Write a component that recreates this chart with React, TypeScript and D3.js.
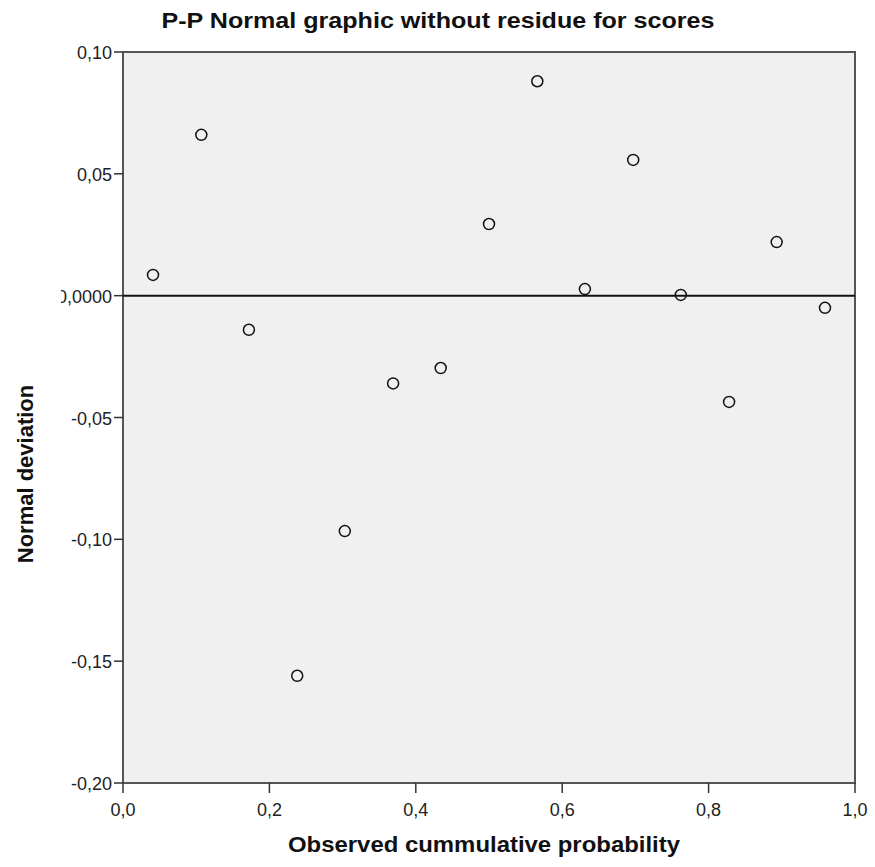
import React from 'react';
import * as d3 from 'd3';

// Observed cumulative probability (x) and normal deviation (y) per case
const observedProb = [0.041, 0.107, 0.172, 0.238, 0.303, 0.369, 0.434, 0.5, 0.566, 0.631, 0.697, 0.762, 0.828, 0.893, 0.959];
const deviation = [0.0085, 0.066, -0.014, -0.156, -0.0966, -0.036, -0.0297, 0.0294, 0.088, 0.0027, 0.0557, 0.0003, -0.0436, 0.022, -0.005];

const xTicks = [0, 0.2, 0.4, 0.6, 0.8, 1.0];
const xTickLabels = ['0,0', '0,2', '0,4', '0,6', '0,8', '1,0'];
const yTicks = [0.1, 0.05, 0, -0.05, -0.1, -0.15, -0.2];
const yTickLabels = ['0,10', '0,05', '0,0000', '-0,05', '-0,10', '-0,15', '-0,20'];

const App = () => {
  const width = 875;
  const height = 867;
  const left = 123;
  const right = 855;
  const top = 52;
  const bottom = 783;

  const x = d3.scaleLinear().domain([0, 1]).range([left, right]);
  const y = d3.scaleLinear().domain([-0.2, 0.1]).range([bottom, top]);

  const font = '"Liberation Sans", Arial, sans-serif';

  return (
    <svg width={width} height={height} style={{ position: 'absolute', left: 0, top: 0, background: '#fff' }} fontFamily={font}>
      <defs>
        {/* the long zero label is cut at the left, as in the source */}
        <clipPath id="label-clip">
          <rect x={61} y={0} width={width} height={height} />
        </clipPath>
      </defs>

      {/* title */}
      <text x={438} y={28} textAnchor="middle" fontSize={22} fontWeight="bold" fill="#111" textLength={553} lengthAdjust="spacingAndGlyphs">
        P-P Normal graphic without residue for scores
      </text>

      {/* plot background */}
      <rect x={left} y={top} width={right - left} height={bottom - top} fill="#f0f0f0" stroke="#555" strokeWidth={2} />

      {/* zero reference line */}
      <line x1={left} x2={right} y1={y(0)} y2={y(0)} stroke="#111" strokeWidth={2} />

      {/* y axis ticks */}
      {yTicks.map((t, i) => (
        <g key={'y' + i}>
          <line x1={left - 9} x2={left} y1={y(t)} y2={y(t)} stroke="#333" strokeWidth={1.5} />
          <text x={left - 11} y={y(t) + 7} textAnchor="end" fontSize={18} fill="#222" clipPath="url(#label-clip)">
            {yTickLabels[i]}
          </text>
        </g>
      ))}

      {/* x axis ticks */}
      {xTicks.map((t, i) => (
        <g key={'x' + i}>
          <line x1={x(t)} x2={x(t)} y1={bottom} y2={bottom + 10} stroke="#333" strokeWidth={1.5} />
          <text x={x(t)} y={bottom + 33} textAnchor="middle" fontSize={18} fill="#222">
            {xTickLabels[i]}
          </text>
        </g>
      ))}

      {/* points */}
      {observedProb.map((p, i) => (
        <circle key={'p' + i} cx={x(p)} cy={y(deviation[i])} r={5.5} fill="none" stroke="#111" strokeWidth={1.5} />
      ))}

      {/* axis titles */}
      <text x={484} y={852} textAnchor="middle" fontSize={22} fontWeight="bold" fill="#111" textLength={392} lengthAdjust="spacingAndGlyphs">
        Observed cummulative probability
      </text>
      <text transform="translate(33, 474) rotate(-90)" textAnchor="middle" fontSize={22} fontWeight="bold" fill="#111">
        Normal deviation
      </text>
    </svg>
  );
};

export default App;
